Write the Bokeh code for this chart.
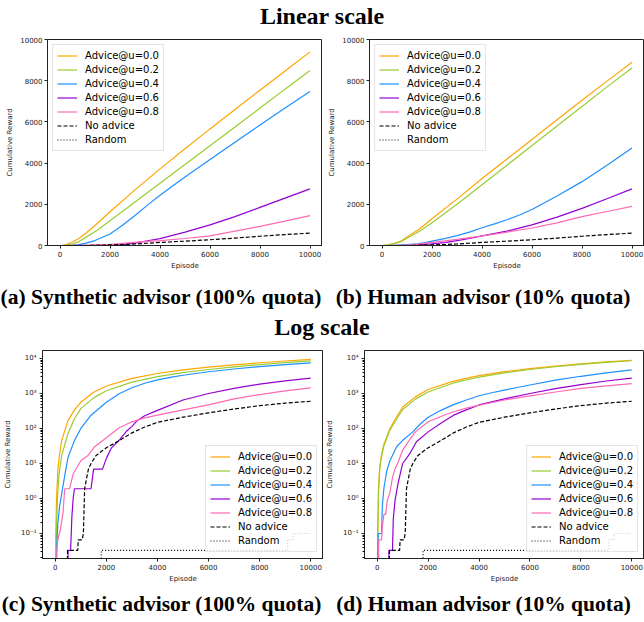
import numpy as np
from bokeh.plotting import figure
from bokeh.models import Range1d, FixedTicker, CustomJSTickFormatter, Div
from bokeh.layouts import column, row
from bokeh.embed import file_html
from bokeh.resources import INLINE

# ---------------- data ----------------
series_labels = ["Advice@u=0.0", "Advice@u=0.2", "Advice@u=0.4", "Advice@u=0.6", "Advice@u=0.8"]
no_advice_label = "No advice"
random_label = "Random"
x_ticks = [0, 2000, 4000, 6000, 8000, 10000]
lin_y_ticks = [0, 2000, 4000, 6000, 8000, 10000]
log_y_ticks = [0.1, 1, 10, 100, 1000, 10000]

# (a)/(c) Synthetic advisor (100% quota)
syn_u00_ep = [0, 20, 50, 100, 150, 250, 500, 750, 1000, 1500, 2000, 3000, 4000, 5000, 6000, 7000, 8000, 9000, 10000]
syn_u00 = [0, 0.1, 1, 6, 15, 45, 170, 340, 560, 1080, 1640, 2700, 3720, 4700, 5660, 6600, 7540, 8470, 9400]
syn_u02_ep = [0, 30, 60, 100, 150, 250, 500, 750, 1000, 1500, 2000, 3000, 4000, 5000, 6000, 7000, 8000, 9000, 10000]
syn_u02 = [0, 0.03, 0.3, 1.7, 5, 17, 72, 190, 370, 750, 1200, 2110, 3020, 3930, 4840, 5750, 6670, 7590, 8500]
syn_u04_ep = [0, 50, 100, 170, 230, 370, 500, 750, 1000, 1400, 2000, 2500, 3000, 3500, 4000, 4500, 5000, 6000, 7000, 8000, 9000, 10000]
syn_u04 = [0, 0.03, 0.2, 0.6, 1.1, 4.5, 15, 45, 100, 240, 560, 980, 1460, 1960, 2440, 2890, 3320, 4170, 5010, 5850, 6670, 7480]
syn_u06_ep = [0, 480, 500, 600, 650, 700, 750, 1400, 1500, 1850, 2000, 2200, 2500, 2800, 3000, 3200, 3500, 4000, 5000, 6000, 7000, 8000, 9000, 10000]
syn_u06 = [0, 0, 0.033, 0.033, 0.3, 1.0, 1.9, 1.9, 6.9, 6.9, 14, 28, 46, 85, 115, 165, 230, 330, 650, 1000, 1400, 1850, 2300, 2750]
syn_u08_ep = [0, 40, 60, 100, 200, 300, 370, 560, 700, 1000, 1280, 1540, 1800, 2050, 2500, 3000, 3500, 4000, 5000, 6000, 7000, 8000, 9000, 10000]
syn_u08 = [0, 0, 0.033, 0.066, 0.13, 0.37, 1.9, 1.9, 5, 12, 17, 30, 42, 58, 105, 155, 200, 240, 340, 470, 700, 930, 1180, 1450]

# (b)/(d) Human advisor (10% quota)
hum_u00_ep = [0, 20, 50, 100, 150, 250, 500, 750, 1000, 1500, 2000, 3000, 4000, 5000, 6000, 7000, 8000, 9000, 10000]
hum_u00 = [0, 0.1, 2, 8, 15, 33, 100, 210, 410, 800, 1300, 2250, 3250, 4200, 5150, 6100, 7050, 7980, 8900]
hum_u02_ep = [0, 20, 50, 100, 150, 250, 500, 750, 1000, 1500, 2000, 3000, 4000, 5000, 6000, 7000, 8000, 9000, 10000]
hum_u02 = [0, 0.08, 1.5, 7, 13, 30, 90, 180, 350, 690, 1100, 2000, 2950, 3900, 4850, 5800, 6750, 7700, 8620]
hum_u04_ep = [0, 30, 40, 170, 200, 260, 370, 500, 760, 1000, 1400, 1670, 2000, 2500, 3000, 3500, 4000, 4500, 5000, 5500, 6000, 7000, 8000, 9000, 10000]
hum_u04 = [0, 0.033, 0.1, 0.1, 0.6, 1.9, 6, 12, 30, 46, 80, 130, 210, 330, 480, 650, 860, 1050, 1250, 1480, 1750, 2400, 3100, 3900, 4730]
hum_u06_ep = [0, 440, 460, 600, 630, 700, 830, 1000, 1280, 1540, 2000, 2500, 3000, 3500, 4000, 5000, 6000, 7000, 8000, 9000, 10000]
hum_u06 = [0, 0, 0.033, 0.033, 0.25, 0.9, 3, 10, 19, 42, 80, 140, 240, 340, 470, 700, 1000, 1380, 1800, 2270, 2750]
hum_u08_ep = [0, 40, 60, 170, 200, 260, 330, 400, 500, 600, 700, 800, 1000, 1250, 1500, 2000, 2500, 3000, 3500, 4000, 5000, 6000, 7000, 8000, 9000, 10000]
hum_u08 = [0, 0, 0.066, 0.066, 0.15, 0.35, 0.35, 0.9, 1.5, 4, 7, 10, 24, 45, 80, 155, 220, 300, 380, 460, 650, 850, 1100, 1400, 1650, 1900]

# baselines (shared)
no_advice_ep = [0, 450, 480, 880, 900, 1050, 1100, 1150, 1200, 1300, 1400, 1600, 1800, 2000, 2500, 3000, 3500, 4000, 5000, 6000, 7000, 8000, 9000, 10000]
no_advice = [0, 0, 0.033, 0.033, 0.066, 0.066, 0.1, 1.9, 3, 7, 10, 17, 22, 28, 45, 75, 110, 150, 210, 280, 360, 450, 530, 600]
random_ep = [0, 1800, 9100, 9300, 10000]
random_val = [0, 0.033, 0.066, 0.1, 0.1]

COLORS = ["#ffa500", "#9acd32", "#1e90ff", "#9400d3", "#ff69b4"]

syn_curves = [(syn_u00_ep, syn_u00), (syn_u02_ep, syn_u02), (syn_u04_ep, syn_u04),
              (syn_u06_ep, syn_u06), (syn_u08_ep, syn_u08)]
hum_curves = [(hum_u00_ep, hum_u00), (hum_u02_ep, hum_u02), (hum_u04_ep, hum_u04),
              (hum_u06_ep, hum_u06), (hum_u08_ep, hum_u08)]

SANS = "DejaVu Sans"
SERIF = "Liberation Serif"

log_fmt = CustomJSTickFormatter(code="""
const sup = {'-':'\u207b','0':'\u2070','1':'\u00b9','2':'\u00b2','3':'\u00b3','4':'\u2074',
             '5':'\u2075','6':'\u2076','7':'\u2077','8':'\u2078','9':'\u2079'};
const e = Math.round(Math.log10(tick));
return '10' + String(e).split('').map(c => sup[c]).join('');
""")


def panel(curves, log, frame_w, frame_h, b_left, b_top, b_bottom):
    common = dict(frame_width=frame_w, frame_height=frame_h, output_backend="svg",
                  toolbar_location=None, x_range=Range1d(-500, 10500),
                  min_border_left=b_left, min_border_right=0, min_border_top=b_top,
                  min_border_bottom=b_bottom)
    if log:
        p = figure(y_axis_type="log", y_range=Range1d(0.0193, 16900), **common)
    else:
        p = figure(y_range=Range1d(0, 10000), **common)

    def prep(v):
        v = np.asarray(v, dtype=float)
        return np.where(v > 0, v, 1e-4) if log else v

    for (ep, val), color, label in zip(curves, COLORS, series_labels):
        p.line(ep, prep(val), line_color=color, line_width=1.2, legend_label=label)
    p.line(no_advice_ep, prep(no_advice), line_color="black", line_width=1.2,
           line_dash="4 2", legend_label=no_advice_label)
    p.step(random_ep, prep(random_val), mode="after", line_color="black", line_width=1.2,
           line_dash="1 2", legend_label=random_label)

    p.grid.visible = False
    p.outline_line_color = "#222222"
    p.outline_line_width = 1
    p.background_fill_color = "white"
    p.border_fill_color = "white"

    p.xaxis.ticker = FixedTicker(ticks=x_ticks)
    p.xaxis.axis_label = "Episode"
    p.yaxis.axis_label = "Cumulative Reward"
    if log:
        minors = [m * 10.0 ** k for k in range(-2, 5) for m in range(2, 10)]
        p.yaxis.ticker = FixedTicker(ticks=log_y_ticks, minor_ticks=minors)
        p.yaxis.formatter = log_fmt
        p.yaxis.minor_tick_out = 2
        p.yaxis.minor_tick_in = 0
        p.yaxis.major_label_standoff = 3
        p.yaxis.axis_label_standoff = 6
    else:
        p.yaxis.ticker = FixedTicker(ticks=lin_y_ticks)
        p.yaxis.minor_tick_line_color = None
        p.yaxis.major_label_standoff = 2
        p.yaxis.axis_label_standoff = 3
    p.xaxis.minor_tick_line_color = None
    p.xaxis.major_label_standoff = 2
    p.xaxis.axis_label_standoff = 2
    for ax in (p.xaxis, p.yaxis):
        ax.major_tick_out = 3
        ax.major_tick_in = 0
        ax.axis_line_color = "#222222"
        ax.major_tick_line_color = "#222222"
        ax.major_label_text_font = SANS
        ax.major_label_text_font_size = "7px"
        ax.major_label_text_color = "#222222"
        ax.axis_label_text_font = SANS
        ax.axis_label_text_font_size = "7px"
        ax.axis_label_text_font_style = "normal"
        ax.axis_label_text_color = "#222222"

    lg = p.legend[0]
    lg.location = "bottom_right" if log else "top_left"
    lg.margin = 6 if log else 5
    lg.padding = 4
    lg.spacing = 1
    lg.glyph_width = 20
    lg.glyph_height = 13
    lg.label_height = 13
    lg.label_standoff = 8
    lg.label_text_font = SANS
    lg.label_text_font_size = "10px"
    lg.label_text_color = "black"
    lg.border_line_color = "#cccccc"
    lg.border_line_width = 1
    lg.background_fill_alpha = 0.8
    return p


def text_div(txt, width, height, size, line_h):
    html = ('<div style="width:%dpx;text-align:center;font-family:\'%s\',serif;'
            'font-weight:bold;font-size:%spx;line-height:%dpx;color:black;white-space:nowrap;">%s</div>'
            % (width, SERIF, size, line_h, txt))
    return Div(text=html, width=width, height=height, margin=0)


title_lin = text_div("Linear scale", 644, 34, 24, 33)
p_a = panel(syn_curves, False, 275, 206, 47, 5, 28)
p_b = panel(hum_curves, False, 275, 206, 47, 5, 28)
cap_ab = row(text_div("(a) Synthetic advisor (100% quota)", 322, 40, 21.5, 48),
             text_div("(b) Human advisor (10% quota)", 322, 40, 21.5, 48), spacing=0)
title_log = text_div("Log scale", 644, 31, 24, 28)
p_c = panel(syn_curves, True, 281, 208, 42, 6, 26)
p_d = panel(hum_curves, True, 280, 208, 41, 6, 26)
cap_cd = row(text_div("(c) Synthetic advisor (100% quota)", 323, 38, 21.5, 38),
             text_div("(d) Human advisor (10% quota)", 321, 38, 21.5, 38), spacing=0)

layout = column(title_lin, row(p_a, p_b, spacing=0), cap_ab, title_log,
                row(p_c, p_d, spacing=0), cap_cd, spacing=0)

open("out.html", "w").write(file_html(layout, INLINE))
